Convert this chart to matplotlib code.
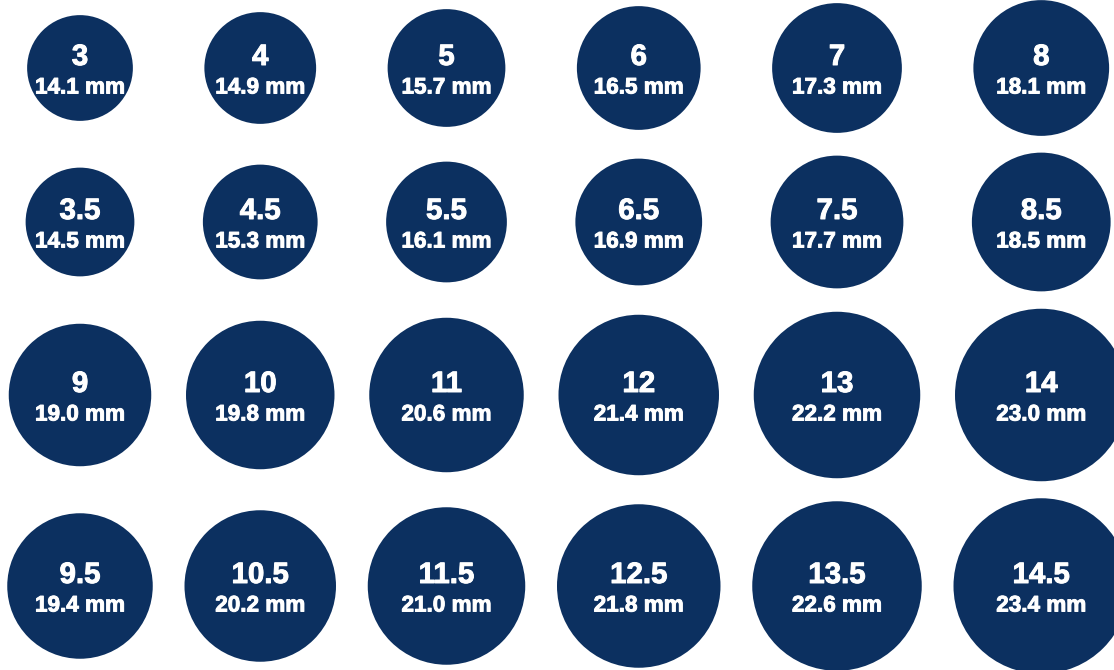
import matplotlib.pyplot as plt
import matplotlib.patheffects as pe
from matplotlib.patches import Circle

# ring sizes (US) and inner diameters in mm, row by row
sizes = ["3", "4", "5", "6", "7", "8",
         "3.5", "4.5", "5.5", "6.5", "7.5", "8.5",
         "9", "10", "11", "12", "13", "14",
         "9.5", "10.5", "11.5", "12.5", "13.5", "14.5"]
diameters_mm = [14.1, 14.9, 15.7, 16.5, 17.3, 18.1,
                14.5, 15.3, 16.1, 16.9, 17.7, 18.5,
                19.0, 19.8, 20.6, 21.4, 22.2, 23.0,
                19.4, 20.2, 21.0, 21.8, 22.6, 23.4]

n_cols = 6
px_per_mm = 7.5          # drawing scale
navy = "#0c3060"

# layout: column centres follow the first row with a fixed gap
first_x = 80
gap = 71.5
col_x = [first_x]
for i in range(1, n_cols):
    r_prev = diameters_mm[i - 1] * px_per_mm / 2
    r_this = diameters_mm[i] * px_per_mm / 2
    col_x.append(col_x[-1] + r_prev + gap + r_this)
row_y = [68, 222, 395, 586]

plt.rcParams['font.family'] = ['Liberation Sans', 'DejaVu Sans']

fig = plt.figure(figsize=(11.14, 6.70), dpi=100)
ax = fig.add_axes([0, 0, 1, 1])
ax.set_xlim(0, 1114)
ax.set_ylim(670, 0)
ax.axis('off')

# slightly heavier white text
thick = [pe.withStroke(linewidth=0.7, foreground='white')]

for i, (size, mm) in enumerate(zip(sizes, diameters_mm)):
    cx = col_x[i % n_cols]
    cy = row_y[i // n_cols]
    ax.add_patch(Circle((cx, cy), mm * px_per_mm / 2, color=navy, lw=0))
    ax.text(cx, cy - 3, size, color='white', fontsize=21.2, fontweight='bold',
            ha='center', va='baseline', path_effects=thick)
    ax.text(cx, cy + 25.5, f"{mm:.1f} mm", color='white', fontsize=16.2,
            fontweight='bold', ha='center', va='baseline', path_effects=thick)

plt.savefig("out.png", dpi=100, facecolor='white')
